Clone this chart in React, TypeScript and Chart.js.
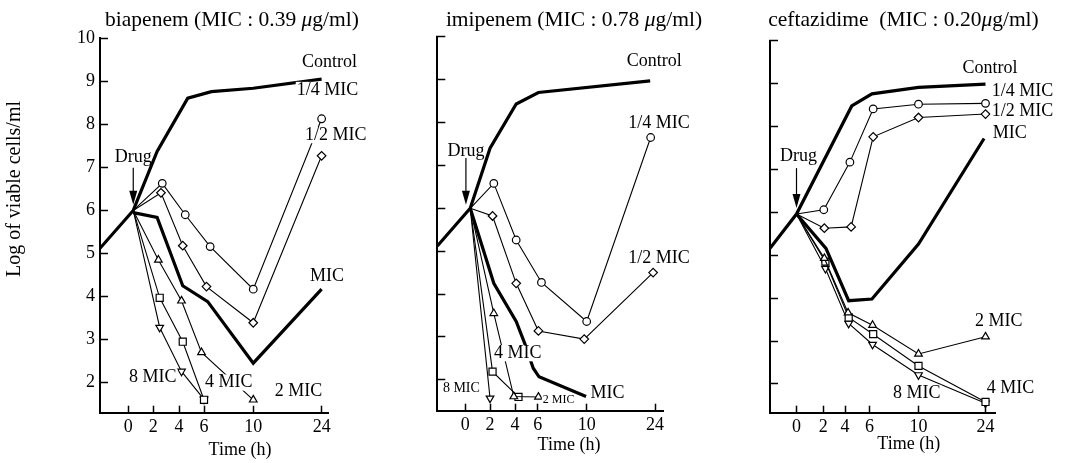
import React, { useEffect, useRef } from 'react';
import { Chart, registerables } from 'chart.js';

Chart.register(...registerables);

const W = 1073;
const H = 463;
const SERIF = '"Liberation Serif", "Times New Roman", serif';
const Y_AXIS_BOX = 40;
const X_AXIS_BOX = 45;

// ---- axis ticks ----
const X_TICK_HOURS = [0, 2, 4, 6, 10, 24];
const X_TICK_LABELS = ['0', '2', '4', '6', '10', '24'];
const Y_TICKS = [2, 3, 4, 5, 6, 7, 8, 9, 10];
const Y_TICK_LABELS = ['2', '3', '4', '5', '6', '7', '8', '9', '10'];

// ---- biapenem (hours, log cells/ml) ----
const BIA_CONTROL_T = [-2.26, 0.4, 2.3, 4.7, 6.6, 10, 24];
const BIA_CONTROL_V = [5.12, 6.0, 7.37, 8.61, 8.76, 8.84, 9.05];
const BIA_Q_T = [0.4, 2.7, 4.5, 6.5, 10, 24];
const BIA_Q_V = [6.0, 6.63, 5.9, 5.16, 4.17, 8.13];
const BIA_H_T = [0.4, 2.6, 4.3, 6.2, 10, 24];
const BIA_H_V = [6.0, 6.41, 5.18, 4.23, 3.39, 7.27];
const BIA_MIC_T = [0.4, 2.3, 4.3, 6.3, 10, 24];
const BIA_MIC_V = [5.95, 5.84, 4.25, 3.88, 2.45, 4.17];
const BIA_2_T = [0.4, 2.4, 4.2, 5.8, 10];
const BIA_2_V = [6.0, 4.85, 3.9, 2.7, 1.6];
const BIA_4_T = [0.4, 2.5, 4.3, 6];
const BIA_4_V = [6.0, 3.97, 2.95, 1.6];
const BIA_8_T = [0.4, 2.5, 4.2, 6];
const BIA_8_V = [6.0, 3.28, 2.26, 1.61];

// ---- imipenem ----
const IMI_CONTROL_T = [-2.26, 0.4, 2.0, 4.1, 6.05, 23];
const IMI_CONTROL_V = [5.12, 6.0, 7.4, 8.43, 8.7, 8.97];
const IMI_Q_T = [0.4, 2.3, 4.1, 6.3, 10, 23.1];
const IMI_Q_V = [6.0, 6.58, 5.26, 4.27, 3.36, 7.65];
const IMI_H_T = [0.4, 2.2, 4.1, 6.05, 9.8, 23.6];
const IMI_H_V = [6.0, 5.82, 4.25, 3.14, 2.95, 4.5];
const IMI_MIC_T = [0.4, 2.3, 4.1, 4.85, 5.6, 6.1, 9.95];
const IMI_MIC_V = [6.0, 4.25, 3.36, 2.85, 2.27, 2.07, 1.61];
const IMI_2_T = [0.4, 2.3, 3.9, 6.05];
const IMI_2_V = [6.0, 3.55, 1.61, 1.6];
const IMI_4_T = [0.4, 2.2, 4.3];
const IMI_4_V = [6.0, 2.19, 1.6];
const IMI_8_T = [0.4, 2.0];
const IMI_8_V = [6.0, 1.57];

// ---- ceftazidime ----
const CEF_CONTROL_T = [-1.98, 0, 4.55, 6.2, 10, 24];
const CEF_CONTROL_V = [5.16, 5.96, 8.48, 8.76, 8.91, 8.99];
const CEF_Q_T = [0, 2.05, 4.4, 6.3, 10, 24];
const CEF_Q_V = [5.96, 6.06, 7.17, 8.41, 8.52, 8.54];
const CEF_H_T = [0, 2.1, 4.5, 6.3, 10, 24];
const CEF_H_V = [5.96, 5.63, 5.66, 7.76, 8.21, 8.29];
const CEF_MIC_T = [0, 2.25, 4.3, 6.2, 10, 23.7];
const CEF_MIC_V = [5.96, 5.16, 3.94, 3.98, 5.26, 7.72];
const CEF_2_T = [0, 2.1, 4.25, 6.25, 10, 24];
const CEF_2_V = [5.96, 4.93, 3.66, 3.37, 2.7, 3.1];
const CEF_4_T = [0, 2.2, 4.3, 6.3, 10, 24];
const CEF_4_V = [5.96, 4.85, 3.55, 3.16, 2.42, 1.58];
const CEF_8_T = [0, 2.2, 4.3, 6.25, 10, 24];
const CEF_8_V = [5.96, 4.69, 3.41, 2.92, 2.21, 1.55];

type Label = { text: string; t: number; v: number; size?: number; align?: 'left' | 'center'; bg?: boolean };

// piecewise mapping from hours to the (non-uniform) drawn time axis
function toAxis(h: number, stops: number[]): number {
  const hs = X_TICK_HOURS;
  let i = 0;
  if (h >= hs[hs.length - 2]) i = hs.length - 2;
  else if (h > hs[1]) {
    while (i < hs.length - 2 && h > hs[i + 1]) i++;
  }
  const f = (h - hs[i]) / (hs[i + 1] - hs[i]);
  return stops[i] + f * (stops[i + 1] - stops[i]);
}

type SeriesStyle = { width: number; point?: string; rotation?: number; radius?: number };
const S_CONTROL: SeriesStyle = { width: 3.2 };
const S_Q: SeriesStyle = { width: 1.1, point: 'circle', radius: 3.8 };
const S_H: SeriesStyle = { width: 1.1, point: 'rectRot', radius: 4.3 };
const S_MIC: SeriesStyle = { width: 3.2 };
const S_2: SeriesStyle = { width: 1.1, point: 'triangle', radius: 4.4 };
const S_4: SeriesStyle = { width: 1.1, point: 'rect', radius: 5 };
const S_8: SeriesStyle = { width: 1.1, point: 'triangle', rotation: 180, radius: 4.4 };

function makeDataset(t: number[], v: number[], st: SeriesStyle, stops: number[]) {
  return {
    data: t.map((h, i) => ({ x: toAxis(h, stops), y: v[i] })),
    borderColor: '#000',
    borderWidth: st.width,
    tension: 0,
    fill: false,
    pointStyle: st.point || 'circle',
    pointRotation: st.rotation || 0,
    pointRadius: t.map((_, i) => (st.point && i > 0 ? st.radius : 0)),
    pointBackgroundColor: '#fff',
    pointBorderColor: '#000',
    pointBorderWidth: 1.2,
  };
}

type Panel = {
  area: { left: number; right: number; top: number; bottom: number };
  xMin: number;
  xMax: number;
  stops: number[];
  yMin: number;
  showYLabels: boolean;
  title: { text: string; italic?: boolean }[];
  titleX: number;
  timeX: number;
  timeY: number;
  series: [number[], number[], SeriesStyle][];
  labels: Label[];
  arrow: { t: number; top: number; tip: number };
  yTitle?: boolean;
};

const PANELS: Panel[] = [
  {
    area: { left: 100, right: 328, top: 38.3, bottom: 412.7 },
    xMin: -2.26,
    xMax: 15.98,
    stops: [0, 2, 4.06, 6.06, 10.0, 15.47],
    yMin: 1.3,
    showYLabels: true,
    title: [{ text: 'biapenem (MIC : 0.39 ' }, { text: 'μ', italic: true }, { text: 'g/ml)' }],
    titleX: 232,
    timeX: 240,
    timeY: 455,
    series: [
      [BIA_CONTROL_T, BIA_CONTROL_V, S_CONTROL],
      [BIA_Q_T, BIA_Q_V, S_Q],
      [BIA_H_T, BIA_H_V, S_H],
      [BIA_MIC_T, BIA_MIC_V, S_MIC],
      [BIA_2_T, BIA_2_V, S_2],
      [BIA_4_T, BIA_4_V, S_4],
      [BIA_8_T, BIA_8_V, S_8],
    ],
    labels: [
      { text: 'Control', t: 20.0, v: 9.45 },
      { text: '1/4 MIC', t: 18.9, v: 8.8 },
      { text: '1/2 MIC', t: 20.6, v: 7.75 },
      { text: 'MIC', t: 21.6, v: 4.48 },
      { text: '8 MIC', t: 0.06, v: 2.13 },
      { text: '4 MIC', t: 6.08, v: 2.0 },
      { text: '2 MIC', t: 14.4, v: 1.79 },
      { text: 'Drug', t: 0.4, v: 7.24, align: 'center', bg: false },
    ],
    arrow: { t: 0.4, top: 6.99, tip: 6.13 },
    yTitle: true,
  },
  {
    area: { left: 437.3, right: 663.3, top: 36.7, bottom: 410.7 },
    xMin: -2.24,
    xMax: 15.84,
    stops: [0, 1.98, 3.98, 5.8, 9.71, 15.18],
    yMin: 1.28,
    showYLabels: false,
    title: [{ text: 'imipenem (MIC : 0.78 ' }, { text: 'μ', italic: true }, { text: 'g/ml)' }],
    titleX: 574,
    timeX: 569,
    timeY: 450,
    series: [
      [IMI_CONTROL_T, IMI_CONTROL_V, S_CONTROL],
      [IMI_Q_T, IMI_Q_V, S_Q],
      [IMI_H_T, IMI_H_V, S_H],
      [IMI_MIC_T, IMI_MIC_V, S_MIC],
      [IMI_2_T, IMI_2_V, S_2],
      [IMI_4_T, IMI_4_V, S_4],
      [IMI_8_T, IMI_8_V, S_8],
    ],
    labels: [
      { text: 'Control', t: 18.2, v: 9.42 },
      { text: '1/4 MIC', t: 18.5, v: 7.98 },
      { text: '1/2 MIC', t: 18.5, v: 4.83 },
      { text: '4 MIC', t: 2.32, v: 2.62 },
      { text: 'MIC', t: 10.8, v: 1.69 },
      { text: '8 MIC', t: -1.81, v: 1.8, size: 14 },
      { text: '2 MIC', t: 6.41, v: 1.53, size: 12 },
      { text: 'Drug', t: 0.05, v: 7.32, align: 'center', bg: false },
    ],
    arrow: { t: 0.05, top: 7.17, tip: 6.08 },
  },
  {
    area: { left: 770, right: 995, top: 40.7, bottom: 412.7 },
    xMin: -2.12,
    xMax: 15.88,
    stops: [0, 2.14, 3.88, 5.84, 9.76, 15.12],
    yMin: 1.33,
    showYLabels: false,
    title: [{ text: 'ceftazidime  (MIC : 0.20' }, { text: 'μ', italic: true }, { text: 'g/ml)' }],
    titleX: 903.5,
    timeX: 908.7,
    timeY: 449,
    series: [
      [CEF_CONTROL_T, CEF_CONTROL_V, S_CONTROL],
      [CEF_Q_T, CEF_Q_V, S_Q],
      [CEF_H_T, CEF_H_V, S_H],
      [CEF_MIC_T, CEF_MIC_V, S_MIC],
      [CEF_2_T, CEF_2_V, S_2],
      [CEF_4_T, CEF_4_V, S_4],
      [CEF_8_T, CEF_8_V, S_8],
    ],
    labels: [
      { text: 'Control', t: 19.2, v: 9.36 },
      { text: '1/4 MIC', t: 25.3, v: 8.83 },
      { text: '1/2 MIC', t: 25.3, v: 8.36 },
      { text: 'MIC', t: 25.5, v: 7.84 },
      { text: '2 MIC', t: 21.8, v: 3.47 },
      { text: '8 MIC', t: 7.92, v: 1.79 },
      { text: '4 MIC', t: 24.25, v: 1.9 },
      { text: 'Drug', t: 0.15, v: 7.3, align: 'center', bg: false },
    ],
    arrow: { t: 0, top: 7.03, tip: 6.1 },
  },
];

function makeTextPlugin(p: Panel) {
  return {
    id: 'panelText',
    afterDatasetsDraw(chart: any) {
      const ctx = chart.ctx as CanvasRenderingContext2D;
      const xs = chart.scales.x;
      const ys = chart.scales.y;
      ctx.save();
      ctx.fillStyle = '#000';
      ctx.strokeStyle = '#000';

      // curve labels
      for (const lb of p.labels) {
        const size = lb.size || 18;
        ctx.font = `${size}px ${SERIF}`;
        ctx.textBaseline = 'middle';
        const px = xs.getPixelForValue(toAxis(lb.t, p.stops));
        const py = ys.getPixelForValue(lb.v);
        const w = ctx.measureText(lb.text).width;
        const left = lb.align === 'center' ? px - w / 2 : px;
        if (lb.bg !== false) {
          ctx.fillStyle = '#fff';
          ctx.fillRect(left - 1, py - size * 0.45, w + 2, size * 0.9);
          ctx.fillStyle = '#000';
        }
        ctx.textAlign = 'left';
        ctx.fillText(lb.text, left, py);
      }

      // drug arrow
      const ax = xs.getPixelForValue(toAxis(p.arrow.t, p.stops));
      const aTop = ys.getPixelForValue(p.arrow.top);
      const aTip = ys.getPixelForValue(p.arrow.tip);
      ctx.lineWidth = 1.2;
      ctx.beginPath();
      ctx.moveTo(ax, aTop);
      ctx.lineTo(ax, aTip - 10);
      ctx.stroke();
      ctx.beginPath();
      ctx.moveTo(ax - 4, aTip - 14);
      ctx.lineTo(ax + 4, aTip - 14);
      ctx.lineTo(ax, aTip);
      ctx.closePath();
      ctx.fill();

      // panel title
      ctx.textBaseline = 'alphabetic';
      ctx.textAlign = 'left';
      const tsize = 21.5;
      const widths = p.title.map((part) => {
        ctx.font = `${part.italic ? 'italic ' : ''}${tsize}px ${SERIF}`;
        return ctx.measureText(part.text).width;
      });
      const total = widths.reduce((a, b) => a + b, 0);
      let x = p.titleX - total / 2;
      p.title.forEach((part, i) => {
        ctx.font = `${part.italic ? 'italic ' : ''}${tsize}px ${SERIF}`;
        ctx.fillText(part.text, x, 26);
        x += widths[i];
      });

      // x axis title
      ctx.font = `18px ${SERIF}`;
      ctx.textAlign = 'center';
      ctx.fillText('Time (h)', p.timeX, p.timeY);

      // y axis title
      if (p.yTitle) {
        ctx.save();
        ctx.translate(15, 189);
        ctx.rotate(-Math.PI / 2);
        ctx.font = `20px ${SERIF}`;
        ctx.textAlign = 'center';
        ctx.textBaseline = 'middle';
        ctx.fillText('Log of viable cells/ml', 0, 0);
        ctx.restore();
      }
      ctx.restore();
    },
  };
}

function PanelChart({ p }: { p: Panel }) {
  const ref = useRef<HTMLCanvasElement | null>(null);
  useEffect(() => {
    if (!ref.current) return;
    const chart = new Chart(ref.current, {
      type: 'line',
      data: {
        datasets: p.series.map(([t, v, st]) => makeDataset(t, v, st, p.stops)) as any,
      },
      options: {
        responsive: false,
        animation: false,
        devicePixelRatio: 1,
        events: [],
        layout: {
          padding: {
            left: p.area.left - Y_AXIS_BOX,
            right: W - p.area.right,
            top: p.area.top,
            bottom: H - p.area.bottom - X_AXIS_BOX,
          },
        },
        plugins: {
          legend: { display: false },
          tooltip: { enabled: false },
          title: { display: false },
        },
        scales: {
          x: {
            type: 'linear',
            min: p.xMin,
            max: p.xMax,
            afterBuildTicks: (s: any) => {
              s.ticks = p.stops.map((v) => ({ value: v }));
            },
            afterFit: (s: any) => {
              s.height = X_AXIS_BOX;
            },
            grid: {
              drawOnChartArea: false,
              drawTicks: true,
              tickLength: -7,
              tickColor: '#000',
              tickWidth: 1.5,
              color: '#000',
            },
            border: { display: true, color: '#000', width: 2 },
            ticks: {
              autoSkip: false,
              maxRotation: 0,
              minRotation: 0,
              padding: 11,
              color: '#000',
              font: { family: SERIF, size: 18 },
              callback: (_v: any, i: number) => X_TICK_LABELS[i],
            },
          },
          y: {
            type: 'linear',
            min: p.yMin,
            max: 10,
            afterBuildTicks: (s: any) => {
              s.ticks = Y_TICKS.map((v) => ({ value: v }));
            },
            afterFit: (s: any) => {
              s.width = Y_AXIS_BOX;
            },
            grid: {
              drawOnChartArea: false,
              drawTicks: true,
              tickLength: -8,
              tickColor: '#000',
              tickWidth: 1.5,
              color: '#000',
            },
            border: { display: true, color: '#000', width: 2 },
            ticks: {
              display: p.showYLabels,
              autoSkip: false,
              padding: 13,
              color: '#000',
              font: { family: SERIF, size: 18 },
              callback: (_v: any, i: number) => Y_TICK_LABELS[i],
            },
          },
        },
      } as any,
      plugins: [makeTextPlugin(p)],
    });
    return () => chart.destroy();
  }, [p]);
  return (
    <canvas
      ref={ref}
      width={W}
      height={H}
      style={{ position: 'absolute', left: 0, top: 0, width: W, height: H }}
    />
  );
}

export default function App() {
  return (
    <div style={{ position: 'absolute', left: 0, top: 0, width: W, height: H, background: '#fff', overflow: 'hidden' }}>
      {PANELS.map((p, i) => (
        <PanelChart key={i} p={p} />
      ))}
    </div>
  );
}
